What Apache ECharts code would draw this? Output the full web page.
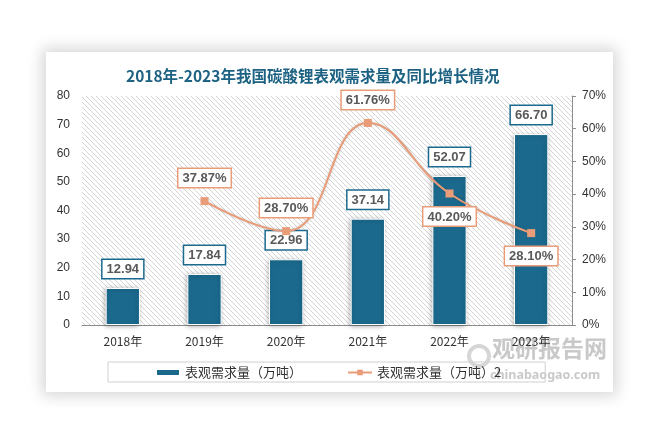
<!DOCTYPE html>
<html><head><meta charset="utf-8">
<script src="https://cdn.jsdelivr.net/npm/echarts@6/dist/echarts.min.js"></script>
<style>
html,body{margin:0;padding:0;background:#fff;}
#card{position:absolute;left:46px;top:52px;width:567px;height:340px;background:#fff;box-shadow:0 0 14px 4px rgba(0,0,0,0.16);}
#chart{position:absolute;left:0;top:0;width:661px;height:445px;}
</style></head>
<body>
<div id="card"></div>
<div id="chart"></div>
<script>
var categories = ['2018年','2019年','2020年','2021年','2022年','2023年'];
var demandValues = [12.94, 17.84, 22.96, 37.14, 52.07, 66.70];
var growthValues = [null, 37.87, 28.70, 61.76, 40.20, 28.10];
var growthLabelPos = ['top','top','top','top','bottom','bottom'];
var barName = '表观需求量（万吨）';
var lineName = '表观需求量（万吨）2';

var cv = document.createElement('canvas');
var s = 5; cv.width = s; cv.height = s;
var c = cv.getContext('2d');
c.fillStyle = '#ffffff'; c.fillRect(0,0,s,s);
c.strokeStyle = '#d4d4d4'; c.lineWidth = 1;
c.beginPath();
c.moveTo(0,0); c.lineTo(s,s);
c.moveTo(-1,s-1); c.lineTo(1,s+1);
c.moveTo(s-1,-1); c.lineTo(s+1,1);
c.stroke();

var chart = echarts.init(document.getElementById('chart'));
var numFont = 'Liberation Sans, Noto Sans, sans-serif';
chart.setOption({
  backgroundColor: 'transparent',
  animation: false,
  title: {
    text: '2018年-2023年我国碳酸锂表观需求量及同比增长情况',
    left: 121, top: 63,
    textStyle: {fontSize: 15.5, fontWeight: 'bold', color: '#1d6283', fontFamily: 'Noto Sans CJK SC'}
  },
  grid: {left: 82, right: 89, top: 96, bottom: 120, show: true, borderWidth: 0,
    backgroundColor: {image: cv, repeat: 'repeat'}},
  legend: {
    left: 108, top: 362,
    padding: [4, 44, 3, 47],
    itemGap: 45,
    itemWidth: 24, itemHeight: 7,
    borderColor: '#d0d0d0', borderWidth: 1,
    textStyle: {fontSize: 13, color: '#333', fontFamily: 'Noto Sans CJK SC'},
    data: [
      {name: barName, icon: 'rect'},
      {name: lineName}
    ]
  },
  xAxis: {
    type: 'category', data: categories,
    axisLine: {lineStyle: {color: '#8c8c8c', width: 1}},
    axisTick: {show: false},
    axisLabel: {color: '#333', fontSize: 12, margin: 10, fontFamily: 'Noto Sans CJK SC'}
  },
  yAxis: [
    {type: 'value', min: 0, max: 80, interval: 10,
     axisLine: {show: false}, axisTick: {show: false}, splitLine: {show: false},
     axisLabel: {color: '#333', fontSize: 12, margin: 12, fontFamily: numFont}},
    {type: 'value', min: 0, max: 70, interval: 10,
     axisLine: {show: true, lineStyle: {color: '#8c8c8c'}},
     axisTick: {show: true, length: 4, lineStyle: {color: '#8c8c8c'}},
     splitLine: {show: false},
     axisLabel: {color: '#333', fontSize: 12, margin: 10, fontFamily: numFont, formatter: '{value}%'}}
  ],
  series: [
    {name: barName, type: 'bar', data: demandValues, barWidth: '42%',
     itemStyle: {color: '#1b6a8e', borderColor: '#ffffff', borderWidth: 1,
       shadowBlur: 5, shadowColor: 'rgba(0,0,0,0.3)', shadowOffsetX: -1, shadowOffsetY: 1},
     label: {show: true, position: 'top', distance: 10,
       formatter: function(p){return p.value.toFixed(2);},
       backgroundColor: '#fff', borderColor: '#1b6a8e', borderWidth: 1.5,
       padding: [3, 4, 2, 4], color: '#595959', fontSize: 13, fontWeight: 'bold', fontFamily: numFont}
    },
    {name: lineName, type: 'line', yAxisIndex: 1, smooth: 0.45,
     data: growthValues.map(function(v, i){
       return {value: v, label: {position: growthLabelPos[i]}};
     }),
     symbol: 'rect', symbolSize: 8,
     lineStyle: {color: '#e99c78', width: 2, shadowBlur: 3, shadowColor: 'rgba(0,0,0,0.2)'},
     itemStyle: {color: '#e99c78'},
     label: {show: true, distance: 10,
       formatter: function(p){return p.value == null ? '' : p.value.toFixed(2) + '%';},
       backgroundColor: '#fff', borderColor: '#e99c78', borderWidth: 1.5,
       padding: [3, 4, 2, 4], color: '#595959', fontSize: 13, fontWeight: 'bold', fontFamily: numFont}
    }
  ],
  graphic: [
    {type: 'text', left: 492, top: 337, style: {text: '观研报告网', fontSize: 23, fontWeight: 'bold', fill: '#c9c9c9', fontFamily: 'Noto Sans CJK SC'}},
    {type: 'text', left: 490, top: 369, style: {text: 'chinabaogao.com', fontSize: 12.5, fontWeight: 'bold', fill: '#c9c9c9', fontFamily: 'Noto Sans, sans-serif'}},
    {type: 'circle', shape: {cx: 479, cy: 356, r: 10}, style: {fill: 'none', stroke: '#d6d6d6', lineWidth: 4}}
  ]
});
</script>
</body></html>
